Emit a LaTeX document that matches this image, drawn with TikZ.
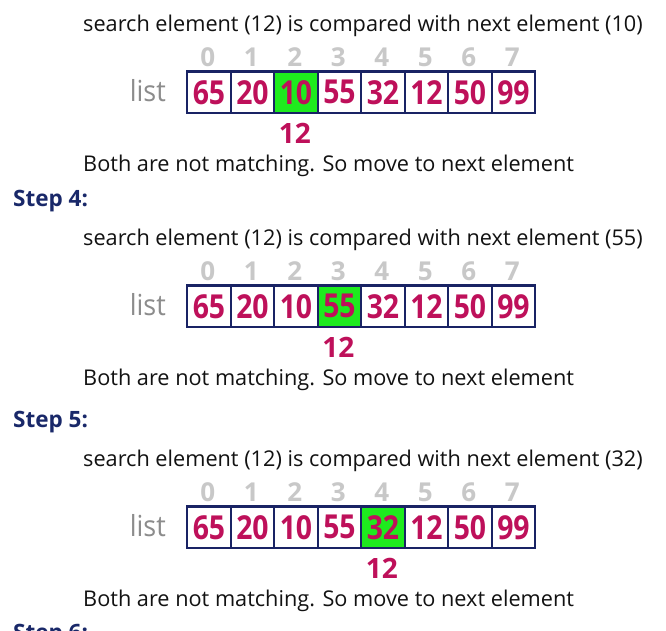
\documentclass[tikz,border=0pt]{standalone}
\usepackage{fontspec}
\setmainfont{Open Sans}
\newfontfamily\cellfont{Open Sans}[FakeStretch=0.86]
\newfontfamily\txtfont{Open Sans}
\newfontfamily\lstfont{Open Sans}[FakeStretch=0.93]
\definecolor{crim}{RGB}{190,16,90}
\definecolor{navy}{RGB}{25,35,100}
\definecolor{hgreen}{RGB}{30,235,30}
\definecolor{idxgray}{RGB}{200,200,200}
\definecolor{listgray}{RGB}{140,140,140}
\definecolor{stepnavy}{RGB}{25,40,105}
\newcommand\drawblock[4]{%
  \node[txt,anchor=base west] (#1-s) at (83,{31.7+#2}) {search element (12) is compared with next element (#4)};
  \node[listlbl,anchor=base east] (#1-l) at (166,{101.7+#2}) {list};
  \foreach \v [count=\i from 0] in {65,20,10,55,32,12,50,99}{%
    \ifnum\i=#3\relax\def\cellcol{hgreen}\else\def\cellcol{white}\fi
    \node[cellbox,fill=\cellcol] (#1-c\i) at ({186+43.5*\i},{70.3+#2}) {\v};
    \node[idx] (#1-i\i) at ({207.75+43.5*\i},{57.5+#2}) {\i};
  }
  \node[key] (#1-k) at ({207.75+43.5*#3},{133+#2}) {12};
  \node[txt,anchor=base west] (#1-b) at (83,{171.7+#2}) {Both are not matching. So move to next element};
}
\begin{document}
\begin{tikzpicture}[x=1pt,y=-1pt,
  cellbox/.style={draw=navy,line width=2.4pt,minimum width=43.5pt,minimum height=41.5pt,inner sep=0pt,anchor=north west,text=crim,font=\cellfont\bfseries\fontsize{33}{33}\selectfont},
  idx/.style={inner sep=0pt,text=idxgray,font=\bfseries\fontsize{26}{26}\selectfont},
  key/.style={inner sep=0pt,text=crim,font=\bfseries\fontsize{28}{28}\selectfont},
  txt/.style={inner sep=0pt,text=black!93,font=\txtfont\fontsize{21.7}{24}\selectfont},
  listlbl/.style={inner sep=0pt,text=listgray,font=\lstfont\fontsize{29}{30}\selectfont},
  steplbl/.style={inner sep=0pt,anchor=base west,text=stepnavy,font=\bfseries\fontsize{22.5}{24}\selectfont}]
\useasboundingbox (0,0) rectangle (666,630);
\fill[white] (0,0) rectangle (666,630);
\clip (0,0) rectangle (666,630);
\drawblock{a}{0}{2}{10}
\node[steplbl] (st4) at (13,206.7) {Step 4:};
\drawblock{b}{214}{3}{55}
\node[steplbl] (st5) at (13,427.7) {Step 5:};
\drawblock{c}{435}{4}{32}
\node[steplbl] (st6) at (13,640) {Step 6:};
\end{tikzpicture}
\end{document}
